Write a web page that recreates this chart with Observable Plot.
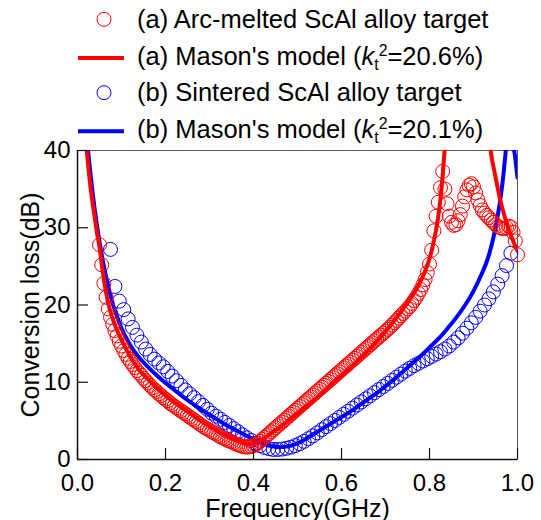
<!DOCTYPE html>
<html><head><meta charset="utf-8">
<script src="https://cdn.jsdelivr.net/npm/d3@7"></script>
<script src="https://cdn.jsdelivr.net/npm/@observablehq/plot@0.6"></script>
<style>
body{margin:0;background:#fff;font-family:"Liberation Sans",Arial,sans-serif;}
#wrap{position:relative;width:541px;height:520px;overflow:hidden;}
#legend{position:relative;width:541px;height:140px;}
.row{position:absolute;left:137px;font-size:25.5px;line-height:25px;white-space:nowrap;color:#000;}
.row sub,.row sup{font-size:0.62em;vertical-align:baseline;position:relative;}
.row sub{top:0.32em;}
.row sup{top:-0.55em;}
#sw{position:absolute;left:0;top:0;}
</style></head>
<body><div id="wrap"><div id="legend"></div><div id="chart"></div></div>
<script>
// ---- data ----
const xTicks = [0, 0.2, 0.4, 0.6, 0.8, 1.0];
const yTicks = [0, 10, 20, 30, 40];
const xLabel = "Frequency(GHz)";
const yLabel = "Conversion loss(dB)";

// (a) Arc-melted target: measured points, 0.05 GHz to 1.0 GHz every 0.005 GHz
const redStart = 0.05, redStep = 0.005;
const redData = [
  27.8, 25.2, 22.8, 21.0, 19.5, 18.4, 17.5, 16.7, 16.0, 15.3,
  14.7, 14.1, 13.6, 13.1, 12.7, 12.3, 11.9, 11.5, 11.2, 10.9,
  10.5, 10.2, 9.9, 9.6, 9.3, 9.0, 8.8, 8.5, 8.3, 8.0,
  7.8, 7.6, 7.3, 7.1, 6.9, 6.7, 6.5, 6.3, 6.1, 5.9,
  5.7, 5.5, 5.3, 5.1, 4.9, 4.7, 4.5, 4.3, 4.1, 3.95,
  3.8, 3.6, 3.45, 3.3, 3.1, 2.95, 2.8, 2.65, 2.5, 2.4,
  2.3, 2.15, 2.0, 1.9, 1.8, 1.7, 1.65, 1.6, 1.65, 1.7,
  1.8, 1.95, 2.15, 2.35, 2.6, 2.85, 3.1, 3.35, 3.6, 3.85,
  4.1, 4.35, 4.6, 4.85, 5.1, 5.35, 5.6, 5.85, 6.1, 6.35,
  6.6, 6.85, 7.1, 7.35, 7.6, 7.85, 8.1, 8.35, 8.6, 8.85,
  9.1, 9.35, 9.6, 9.85, 10.1, 10.35, 10.6, 10.85, 11.1, 11.35,
  11.6, 11.85, 12.1, 12.35, 12.6, 12.85, 13.1, 13.35, 13.6, 13.85,
  14.1, 14.35, 14.6, 14.85, 15.1, 15.35, 15.6, 15.85, 16.1, 16.35,
  16.6, 16.85, 17.1, 17.4, 17.7, 18.0, 18.3, 18.6, 18.9, 19.2,
  19.5, 19.8, 20.2, 20.6, 21.0, 21.5, 22.0, 22.6, 23.3, 24.2,
  25.3, 27.1, 29.6, 31.5, 33.3, 35.2, 37.3, 35.0, 33.1, 31.5,
  30.7, 30.3, 30.4, 30.9, 31.7, 32.8, 34.0, 34.9, 35.5, 35.7,
  35.3, 34.5, 33.6, 32.9, 32.3, 31.9, 31.6, 31.3, 31.0, 30.7,
  30.4, 30.2, 30.0, 29.9, 29.9, 30.0, 30.2, 30.1, 29.4, 28.3,
  26.5
];

// (b) Sintered target: measured points, 0.075 GHz onward every 0.01 GHz
const blueStart = 0.075, blueStep = 0.01;
const blueData = [
  27.2, 22.4, 20.5, 19.4, 18.2, 17.1, 16.1, 15.2, 14.3, 13.6,
  13.0, 12.5, 12.0, 11.4, 10.8, 10.2, 9.6, 9.0, 8.5, 8.0,
  7.5, 7.0, 6.5, 6.0, 5.6, 5.2, 4.8, 4.4, 4.0, 3.6,
  3.2, 2.8, 2.45, 2.1, 1.8, 1.55, 1.4, 1.3, 1.3, 1.35,
  1.45, 1.6, 1.8, 2.05, 2.35, 2.7, 3.05, 3.45, 3.85, 4.25,
  4.65, 5.05, 5.45, 5.85, 6.25, 6.65, 7.05, 7.45, 7.85, 8.25,
  8.65, 9.05, 9.45, 9.85, 10.25, 10.65, 11.05, 11.45, 11.8, 12.15,
  12.45, 12.75, 13.05, 13.35, 13.65, 13.95, 14.3, 14.7, 15.2, 15.75,
  16.35, 17.0, 17.7, 18.4, 19.2, 20.0, 20.8, 21.7, 22.7, 23.8,
  25.1, 26.7
];

// Mason's model curves (values above 40 dB run off the top of the frame)
const redModelF = [0.012, 0.015, 0.02, 0.025, 0.03, 0.035, 0.04, 0.045, 0.05, 0.055, 0.06, 0.065, 0.07, 0.08, 0.09, 0.10, 0.12, 0.14, 0.16, 0.18, 0.20, 0.22, 0.24, 0.26, 0.28, 0.30, 0.32, 0.34, 0.36, 0.38, 0.39, 0.40, 0.41, 0.42, 0.44, 0.46, 0.48, 0.50, 0.52, 0.54, 0.56, 0.58, 0.60, 0.62, 0.64, 0.66, 0.68, 0.70, 0.72, 0.74, 0.76, 0.78, 0.79, 0.80, 0.81, 0.82, 0.825, 0.83, 0.835, 0.84, 0.86, 0.90, 0.93, 0.935, 0.94, 0.945, 0.95, 0.96, 0.97, 0.98, 0.99, 1.0];
const redModelV = [48, 44.5, 40.7, 37.7, 35.0, 32.9, 31.0, 29.1, 27.5, 25.3, 23.3, 21.6, 20.2, 18.2, 16.7, 15.5, 13.3, 11.6, 10.4, 9.3, 8.3, 7.4, 6.6, 5.8, 5.0, 4.3, 3.6, 3.0, 2.5, 2.05, 1.95, 2.0, 2.25, 2.6, 3.4, 4.2, 5.1, 6.0, 6.9, 7.8, 8.8, 9.9, 10.9, 11.9, 13.0, 14.1, 15.3, 16.6, 18.0, 19.5, 21.1, 23.1, 24.4, 26.0, 28.3, 31.5, 33.8, 36.8, 40.5, 45, 60, 70, 55, 43, 39.6, 38.0, 36.6, 33.8, 31.6, 29.8, 28.3, 27.0];
const blueModelF = [0.012, 0.015, 0.02, 0.025, 0.03, 0.035, 0.04, 0.05, 0.06, 0.07, 0.08, 0.09, 0.10, 0.12, 0.14, 0.16, 0.18, 0.20, 0.22, 0.24, 0.26, 0.28, 0.30, 0.32, 0.34, 0.36, 0.38, 0.40, 0.42, 0.44, 0.46, 0.48, 0.50, 0.52, 0.54, 0.56, 0.58, 0.60, 0.62, 0.64, 0.66, 0.68, 0.70, 0.72, 0.74, 0.76, 0.78, 0.80, 0.82, 0.84, 0.86, 0.88, 0.90, 0.92, 0.93, 0.94, 0.95, 0.96, 0.97, 0.975, 0.98, 0.985, 0.99, 0.995, 1.0];
const blueModelV = [50, 46, 42.3, 39.4, 36.7, 34.2, 32.0, 28.2, 25.0, 22.4, 20.2, 18.5, 17.0, 14.8, 13.2, 12.0, 10.9, 9.9, 9.0, 8.1, 7.3, 6.5, 5.8, 5.1, 4.4, 3.8, 3.2, 2.6, 2.1, 1.75, 1.6, 1.7, 2.1, 2.7, 3.4, 4.1, 4.8, 5.5, 6.2, 7.0, 7.8, 8.6, 9.5, 10.4, 11.4, 12.4, 13.4, 14.5, 15.6, 16.9, 18.3, 19.9, 21.8, 24.2, 25.6, 27.5, 30.0, 33.3, 38.0, 41.5, 50, 60, 41.5, 39.0, 36.5];

const legendItems = [
  {kind: "dot",  color: "#ff0000", html: "(a) Arc-melted ScAl alloy target"},
  {kind: "line", color: "#ff0000", html: "(a) Mason's model (<i>k</i><sub>t</sub><sup>2</sup>=20.6%)"},
  {kind: "dot",  color: "#0000ff", html: "(b) Sintered ScAl alloy target"},
  {kind: "line", color: "#0000ff", html: "(b) Mason's model (<i>k</i><sub>t</sub><sup>2</sup>=20.1%)"}
];

// ---- build tables ----
const redPts = redData.map((v, i) => ({f: redStart + i * redStep, v}));
const bluePts = blueData.map((v, i) => ({f: blueStart + i * blueStep, v}));
const redModel = redModelF.map((f, i) => ({f, v: redModelV[i]}));
const blueModel = blueModelF.map((f, i) => ({f, v: blueModelV[i]}));

// ---- legend ----
const legend = document.getElementById("legend");
const baselines = [28.3, 65, 101.7, 138.3];
const sw = d3.select(legend).append("svg").attr("id", "sw").attr("width", 541).attr("height", 140);
legendItems.forEach((it, i) => {
  const row = document.createElement("div");
  row.className = "row";
  row.style.top = (baselines[i] - 21.5) + "px";
  row.innerHTML = it.html;
  legend.appendChild(row);
  const cy = baselines[i] - (it.kind === "dot" ? 9 : 7);
  if (it.kind === "dot") {
    sw.append("circle").attr("cx", 104).attr("cy", cy).attr("r", 7)
      .attr("fill", "none").attr("stroke", it.color).attr("stroke-width", 1);
  } else {
    sw.append("line").attr("x1", 78).attr("x2", 124).attr("y1", cy).attr("y2", cy)
      .attr("stroke", it.color).attr("stroke-width", 4);
  }
});

// ---- chart ----
const chart = Plot.plot({
  width: 541,
  height: 380,
  marginTop: 10,
  marginBottom: 61,
  marginLeft: 77,
  marginRight: 24,
  style: {fontFamily: "'Liberation Sans', Arial, sans-serif", fontSize: "24px", color: "#000", background: "#fff", overflow: "visible"},
  x: {domain: [0, 1]},
  y: {domain: [0, 40]},
  marks: [
    Plot.frame({stroke: "#555", strokeWidth: 1}),
    Plot.dot(bluePts, {x: "f", y: "v", r: 7, stroke: "#0000ff", strokeWidth: 1, fill: "none"}),
    Plot.line(blueModel, {x: "f", y: "v", stroke: "#0000ff", strokeWidth: 4, curve: "monotone-x", clip: true}),
    Plot.dot(redPts, {x: "f", y: "v", r: 7, stroke: "#ff0000", strokeWidth: 1, fill: "none"}),
    Plot.line(redModel, {x: "f", y: "v", stroke: "#ff0000", strokeWidth: 4, curve: "monotone-x", clip: true}),
    Plot.ruleX([0], {stroke: "#111", strokeWidth: 1.5}),
    Plot.ruleY([0], {stroke: "#111", strokeWidth: 1.5}),
    Plot.axisX(xTicks, {tickSize: 11, dy: -11, fill: "none", stroke: "#111", strokeWidth: 1.2, label: null}),
    Plot.axisY(yTicks, {tickSize: 11, dx: 11, fill: "none", stroke: "#111", strokeWidth: 1.2, label: null}),
    Plot.axisX(xTicks, {tickSize: 0, tickPadding: 14, tickFormat: d3.format(".1f"), label: null, fontSize: 24}),
    Plot.axisY(yTicks, {tickSize: 0, tickPadding: 7, tickFormat: d3.format("d"), label: null, fontSize: 24}),
    Plot.text([xLabel], {frameAnchor: "bottom", lineAnchor: "middle", textAnchor: "middle", dy: 49, text: d => d, fontSize: 25}),
    Plot.text([yLabel], {frameAnchor: "left", lineAnchor: "middle", textAnchor: "middle", rotate: -90, dx: -47, text: d => d, fontSize: 25})
  ]
});
document.getElementById("chart").appendChild(chart);
</script></body></html>
